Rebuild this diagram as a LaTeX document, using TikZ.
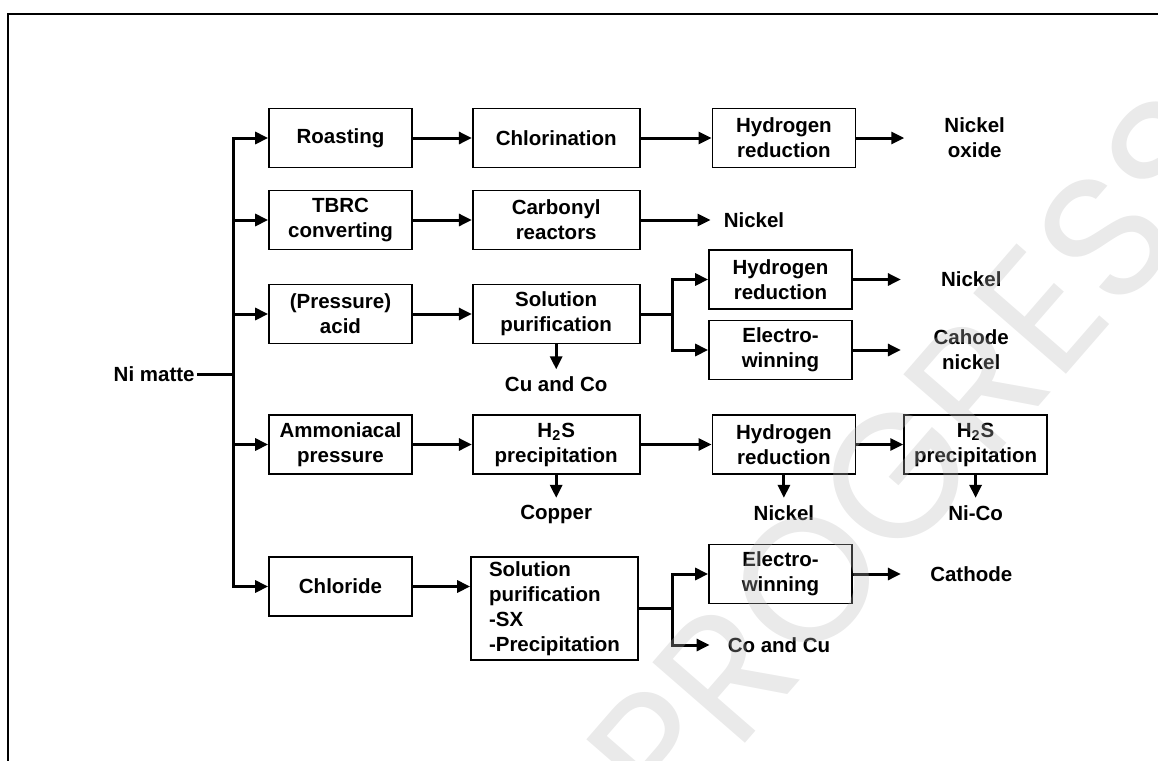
\documentclass[tikz,border=0pt]{standalone}
\usepackage{fontspec}
\setmainfont{Liberation Sans}
\newfontfamily\markfont{Poppins}
\usetikzlibrary{positioning, arrows.meta}
\definecolor{markgray}{RGB}{184,184,184}

\begin{document}
\begin{tikzpicture}[
    x=0.5pt, y=-0.5pt,
    every node/.style={font=\fontsize{10.25}{12.5}\selectfont\bfseries},
    box/.style={
        draw, line width=0.85pt,
        minimum width=71.5pt, minimum height=29.5pt,
        align=center, inner sep=2pt
    },
    widebox/.style={box, minimum width=83.5pt},
    product/.style={align=center, inner xsep=0pt, inner ysep=3.5pt},
    line/.style={line width=1.5pt},
    arrow/.style={line, -{Triangle[length=6.5pt, width=6pt]}}
]

\useasboundingbox (0,0) rectangle (1158,761);

% ── FRAME ──────────────────────────────────────────────────────
\draw[line width=1pt] (8,761) -- (8,14) -- (1158,14);

% ── FEED ───────────────────────────────────────────────────────
\node[anchor=east, inner sep=1pt] (nimatte) at (197,374) {Ni matte};
\coordinate (trunk) at (233,374);

% ── COLUMN 1: first treatment ──────────────────────────────────
\node[box] (roast)    at (340.5,138)   {Roasting};
\node[box] (tbrc)     at (340.5,220)   {TBRC\\converting};
\node[box] (acid)     at (340.5,314)   {(Pressure)\\acid};
\node[box] (ammon)    at (340.5,444.5) {Ammoniacal\\pressure};
\node[box] (chloride) at (340.5,586.5) {Chloride};

% ── COLUMN 2 ───────────────────────────────────────────────────
\node[widebox, right=29.5pt of roast] (chlorin)  {Chlorination};
\node[widebox, right=29.5pt of tbrc]  (carbonyl) {Carbonyl\\reactors};
\node[widebox, right=29.5pt of acid]  (solpur)   {Solution\\purification};
\node[widebox, right=29.5pt of ammon] (htwos)
    {H\textsubscript{2}S\\precipitation};
\node[widebox, align=left, minimum height=51.5pt] (solsx) at (554.5,608.5)
    {Solution\\purification\\-SX\\-Precipitation};

% ── COLUMN 3 ───────────────────────────────────────────────────
\node[box, right=35.5pt of chlorin] (hredA) {Hydrogen\\reduction};
\node[box] (hredB) at (780.5,279.5) {Hydrogen\\reduction};
\node[box] (ewinA) at (780.5,350)   {Electro-\\winning};
\node[box, right=35.5pt of htwos]   (hredC) {Hydrogen\\reduction};
\node[box] (ewinB) at (780.5,574)   {Electro-\\winning};

% ── COLUMN 4 ───────────────────────────────────────────────────
\node[box, right=23.5pt of hredC] (htwosB)
    {H\textsubscript{2}S\\precipitation};

% ── PRODUCTS ───────────────────────────────────────────────────
\node[product, minimum width=70pt, right=24pt of hredA] (niox)  {Nickel\\oxide};
\node[product, minimum width=43pt, right=35pt of carbonyl] (nickA) {Nickel};
\node[product, minimum width=70pt, right=24pt of hredB] (nickB) {Nickel};
\node[product, minimum width=70pt, right=24pt of ewinA] (cathA) {Cahode\\nickel};
\node[product, below=12.5pt of solpur] (cuco)   {Cu and Co};
\node[product, below=11.5pt of htwos]  (copper) {Copper};
\node[product, below=11.5pt of hredC]  (nickC)  {Nickel};
\node[product, below=11.5pt of htwosB] (nico)   {Ni-Co};
\node[product, minimum width=70pt, right=24pt of ewinB] (cathB) {Cathode};
\node[product, minimum width=69pt] (cocu) at (779,645) {Co and Cu};

% ── CONNECTORS ─────────────────────────────────────────────────
\draw[line] (nimatte.east) -- (trunk);
\foreach \b in {roast, tbrc, acid, ammon, chloride}
    \draw[arrow] (trunk) |- (\b.west);

% roasting route
\draw[arrow] (roast) -- (chlorin);
\draw[arrow] (chlorin) -- (hredA);
\draw[arrow] (hredA) -- (niox);

% carbonyl route
\draw[arrow] (tbrc) -- (carbonyl);
\draw[arrow] (carbonyl) -- (nickA);

% acid route
\coordinate (splitA) at (672,314);
\draw[arrow] (acid) -- (solpur);
\draw[line] (solpur.east) -- (splitA);
\draw[arrow] (splitA) |- (hredB.west);
\draw[arrow] (splitA) |- (ewinA.west);
\draw[arrow] (hredB) -- (nickB);
\draw[arrow] (ewinA) -- (cathA);
\draw[arrow] (solpur) -- (cuco);

% ammoniacal route
\draw[arrow] (ammon) -- (htwos);
\draw[arrow] (htwos) -- (hredC);
\draw[arrow] (hredC) -- (htwosB);
\draw[arrow] (htwos) -- (copper);
\draw[arrow] (hredC) -- (nickC);
\draw[arrow] (htwosB) -- (nico);

% chloride route
\coordinate (splitB) at (672,608.5);
\draw[arrow] (chloride.east) -- (chloride.east -| solsx.west);
\draw[line] (solsx.east) -- (splitB);
\draw[arrow] (splitB) |- (ewinB.west);
\draw[arrow] (splitB) |- (cocu.west);
\draw[arrow] (ewinB) -- (cathB);

% ── WATERMARK ──────────────────────────────────────────────────
\node[rotate=49, text=markgray, text opacity=0.3,
      font=\markfont\fontsize{88}{88}\selectfont] (mark)
    at (915,455) {PROGRESS};

\end{tikzpicture}
\end{document}
